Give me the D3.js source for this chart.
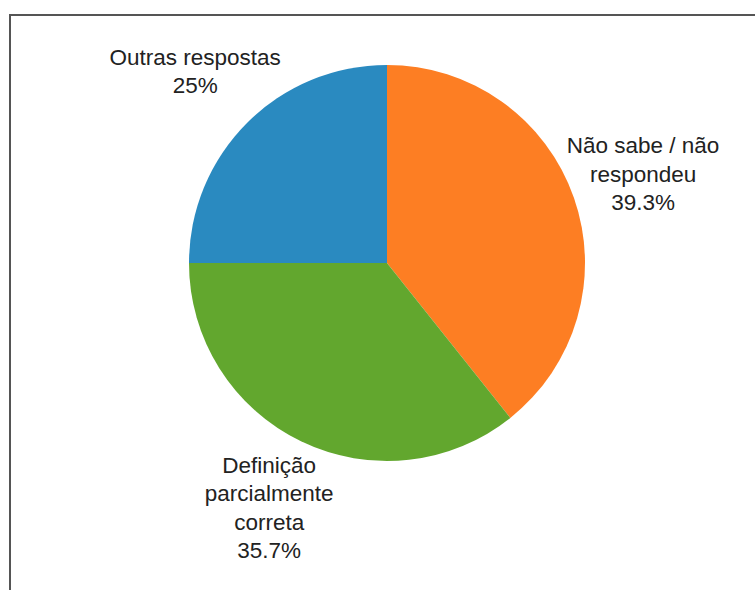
<!DOCTYPE html>
<html>
<head>
<meta charset="utf-8">
<script src="https://cdn.jsdelivr.net/npm/d3@7"></script>
<style>
  html, body { margin: 0; padding: 0; background: #fff; }
  svg { display: block; }
</style>
</head>
<body>
<svg id="chart" width="755" height="590"></svg>
<script>
// Survey answers, clockwise from 12 o'clock
const categories = ["Não sabe / não respondeu", "Definição parcialmente correta", "Outras respostas"];
const labelLines = [["Não sabe / não", "respondeu"], ["Definição", "parcialmente", "correta"], ["Outras respostas"]];
const values = [39.3, 35.7, 25];
const valueLabels = ["39.3%", "35.7%", "25%"];
const colors = ["#fd7e23", "#62a72e", "#2a8ac0"];

const svg = d3.select("#chart");
const W = 755, H = 590;

// frame
svg.append("rect")
  .attr("x", 10).attr("y", 15)
  .attr("width", W).attr("height", H)
  .attr("fill", "none")
  .attr("stroke", "#555")
  .attr("stroke-width", 2);

const cx = 387, cy = 263, r = 198;
const g = svg.append("g").attr("transform", `translate(${cx},${cy})`);

const pie = d3.pie().sort(null).value(d => d);
const arcs = pie(values);
const arc = d3.arc().innerRadius(0).outerRadius(r);

g.selectAll("path.slice")
  .data(arcs)
  .join("path")
  .attr("class", "slice")
  .attr("d", arc)
  .attr("fill", (d, i) => colors[i]);

// labels on the bisector of each slice, outside the pie
const labelR = r * 1.37;
const labelArc = d3.arc().innerRadius(labelR).outerRadius(labelR);
const fontSize = 22.5, lineH = 28.5, capH = 16;

arcs.forEach((d, i) => {
  const [lx, ly] = labelArc.centroid(d);
  const lines = labelLines[i].concat([valueLabels[i]]);
  const n = lines.length;
  const firstBase = ly + capH / 2 - (n - 1) * lineH / 2;
  const t = g.append("text")
    .attr("text-anchor", "middle")
    .attr("font-family", "'Liberation Sans', Arial, sans-serif")
    .attr("font-size", fontSize)
    .attr("fill", "#222");
  lines.forEach((s, k) => {
    t.append("tspan")
      .attr("x", lx)
      .attr("y", firstBase + k * lineH)
      .text(s);
  });
});
</script>
</body>
</html>
